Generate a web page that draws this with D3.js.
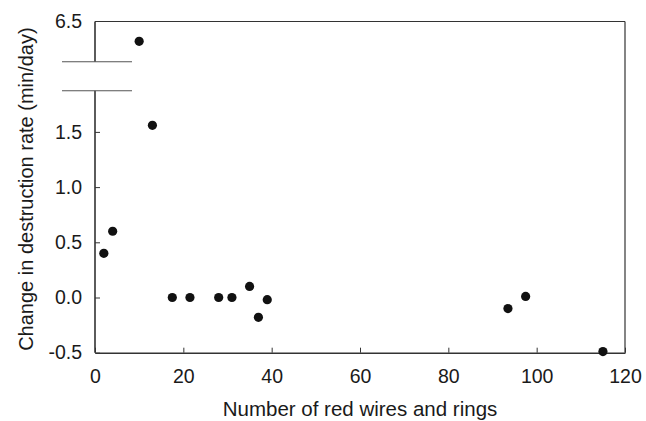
<!DOCTYPE html>
<html>
<head>
<meta charset="utf-8">
<script src="https://cdn.jsdelivr.net/npm/d3@7"></script>
<style>
  body { margin: 0; background: #fff; }
  text { font-family: "Liberation Sans", Arial, sans-serif; fill: #1a1a1a; }
</style>
</head>
<body>
<svg id="chart"></svg>
<script>
// red wires and rings vs change in destruction rate
const wires = [2, 4, 10, 13, 17.5, 21.5, 28, 31, 35, 37, 39, 93.5, 97.5, 115];
const rates = [0.40, 0.60, 6.32, 1.56, 0.0, 0.0, 0.0, 0.0, 0.10, -0.18, -0.02, -0.10, 0.01, -0.49];
const xTicks = [0, 20, 40, 60, 80, 100, 120];
const yTicksLow = [-0.5, 0.0, 0.5, 1.0, 1.5];
const yTicksHigh = [6.5];

const W = 646, H = 421;
const margin = { top: 21.5, right: 21, bottom: 68.3, left: 95 };
const width = W - margin.left - margin.right;
const height = H - margin.top - margin.bottom;

const svg = d3.select("#chart")
    .attr("width", W)
    .attr("height", H)
  .append("g")
    .attr("transform", `translate(${margin.left},${margin.top})`);

const x = d3.scaleLinear().domain([0, 120]).range([0, width]);

// broken y axis: lower and upper segment share the px per unit
const breakLow = 69.2, breakHigh = 40.2;
const yLow = d3.scaleLinear().domain([-0.5, 1.5]).range([height, height - 220.8]);
const pxPerUnit = 220.8 / 2;
const yHigh = d3.scaleLinear().domain([6.5 - breakHigh / pxPerUnit, 6.5]).range([breakHigh, 0]);
const y = v => v > 3 ? yHigh(v) : yLow(v);

const axisColor = "#333";
const fmt = d => d.toFixed(1);   // plain hyphen minus, like the original

// frame top and right
svg.append("line").attr("x1", 0).attr("x2", width).attr("y1", 0).attr("y2", 0)
    .attr("stroke", axisColor).attr("stroke-width", 1.2);
svg.append("line").attr("x1", width).attr("x2", width).attr("y1", 0).attr("y2", height)
    .attr("stroke", axisColor).attr("stroke-width", 1.2);

// x axis
const xAxis = svg.append("g")
    .attr("transform", `translate(0,${height})`)
    .call(d3.axisBottom(x).tickValues(xTicks).tickSizeInner(-5).tickSizeOuter(0).tickPadding(16));
xAxis.select(".domain").attr("stroke", axisColor).attr("stroke-width", 1.6);
xAxis.selectAll(".tick line").attr("stroke", axisColor);

// y axis, lower part
const yAxisLow = svg.append("g")
    .call(d3.axisLeft(yLow).tickValues(yTicksLow).tickFormat(fmt)
      .tickSizeInner(-5).tickSizeOuter(0).tickPadding(13));
yAxisLow.select(".domain").remove();
yAxisLow.selectAll(".tick line").attr("stroke", axisColor);

// y axis, upper part
const yAxisHigh = svg.append("g")
    .call(d3.axisLeft(yHigh).tickValues(yTicksHigh).tickFormat(fmt)
      .tickSize(0).tickPadding(13));
yAxisHigh.select(".domain").remove();

svg.selectAll("g.tick text").attr("font-size", 19.5).attr("fill", "#1a1a1a")
    .attr("font-family", "Liberation Sans, Arial, sans-serif");

// axis line segments with the break
svg.append("line").attr("x1", 0).attr("x2", 0).attr("y1", breakLow).attr("y2", height)
    .attr("stroke", axisColor).attr("stroke-width", 1.6);
svg.append("line").attr("x1", 0).attr("x2", 0).attr("y1", 0).attr("y2", breakHigh)
    .attr("stroke", axisColor).attr("stroke-width", 1.6);
[breakHigh, breakLow].forEach(v => {
  svg.append("line").attr("x1", -33).attr("x2", 37).attr("y1", v).attr("y2", v)
      .attr("stroke", "#555").attr("stroke-width", 1.1);
});

// points
svg.selectAll("circle")
    .data(wires)
  .enter().append("circle")
    .attr("cx", d => x(d))
    .attr("cy", (d, i) => y(rates[i]))
    .attr("r", 4.6)
    .attr("fill", "#111");

// titles
svg.append("text")
    .attr("x", width / 2)
    .attr("y", height + 63.3)
    .attr("text-anchor", "middle")
    .attr("font-size", 20.5)
    .text("Number of red wires and rings");

svg.append("text")
    .attr("transform", `translate(${-62},${height / 2 + 2}) rotate(-90)`)
    .attr("text-anchor", "middle")
    .attr("font-size", 20)
    .text("Change in destruction rate (min/day)");
</script>
</body>
</html>
